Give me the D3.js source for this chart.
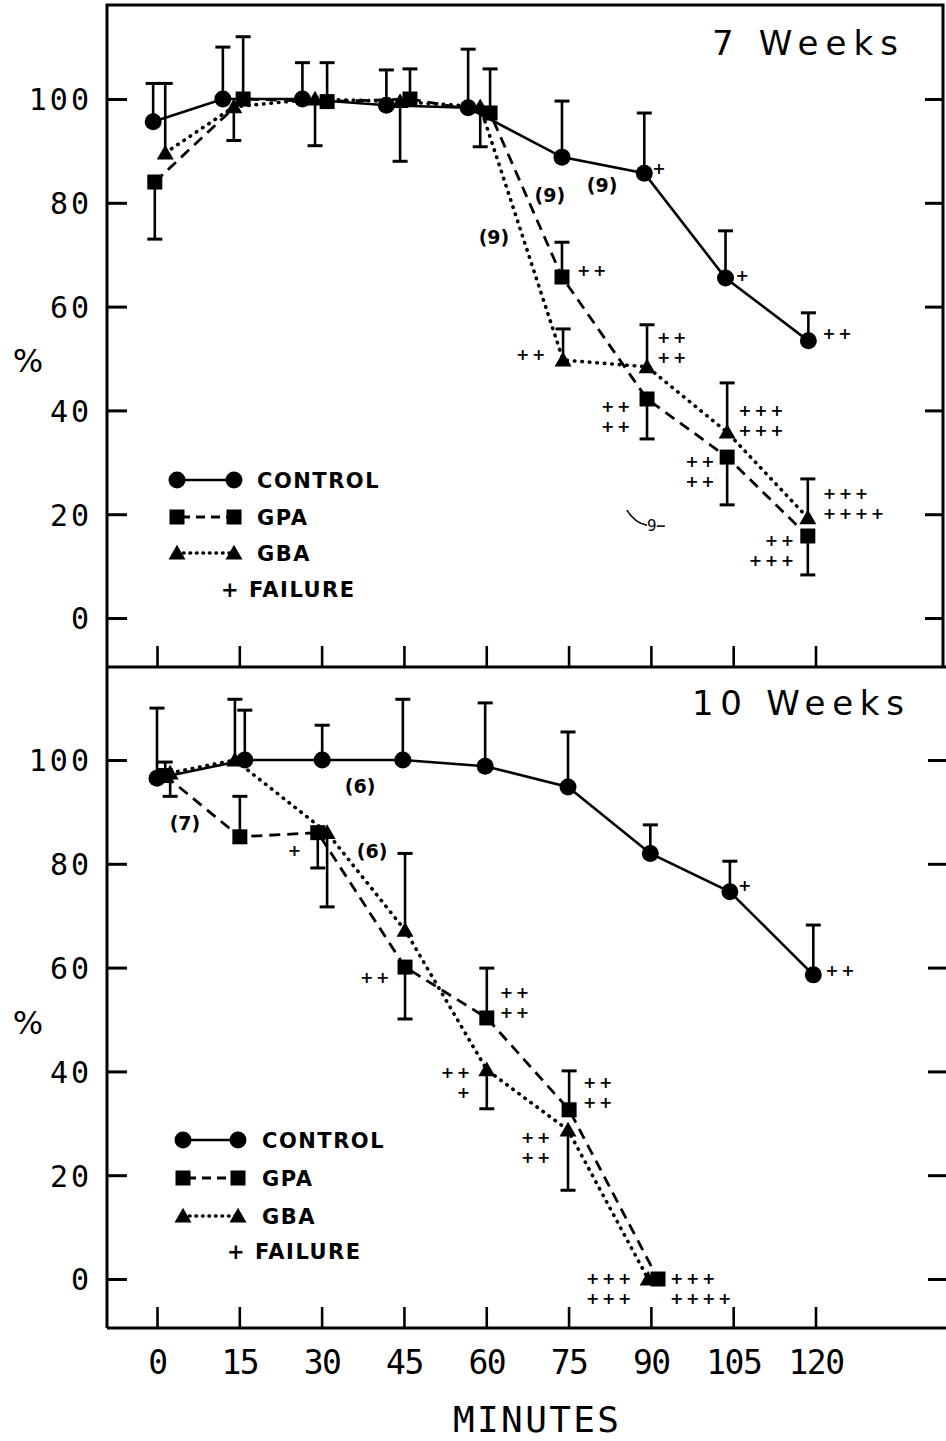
<!DOCTYPE html>
<html><head><meta charset="utf-8">
<script src="https://cdn.jsdelivr.net/npm/d3@7"></script>
<style>body{margin:0;background:#fff} svg{display:block;background:#fff}</style>
</head><body><svg id="c" width="946" height="1441"></svg>
<script>
// ---------- DATA ----------
const minuteTicks = [0, 15, 30, 45, 60, 75, 90, 105, 120];
const percentTicks = [0, 20, 40, 60, 80, 100];
const panelTitles = ["7 Weeks", "10 Weeks"];
const seriesNames = ["CONTROL", "GPA", "GBA"];
const failureLabel = "+ FAILURE";

// 7 weeks: plotted time (min), mean %, error-bar end %
const control7T = [-0.7, 12, 26.5, 41.8, 56.7, 73.8, 88.8, 103.6, 118.7];
const control7V = [95.6, 100, 100, 98.8, 98.3, 88.8, 85.7, 65.5, 53.4];
const control7E = [103, 110, 107, 105.6, 109.6, 99.6, 97.3, 74.6, 58.8];
const gpa7T = [-0.4, 15.7, 31, 46.1, 60.7, 73.8, 89.3, 103.9, 118.6];
const gpa7V = [84, 100, 99.5, 100, 97.3, 65.7, 42.2, 31.0, 15.8];
const gpa7E = [73, 112, 107, 105.8, 105.8, 72.4, 34.5, 21.8, 8.3];
const gba7T = [1.5, 14, 28.8, 44.3, 58.9, 74, 89.3, 103.9, 118.6];
const gba7V = [89.6, 98.5, 100, 99.5, 98.5, 49.7, 48.4, 35.8, 19.3];
const gba7E = [103, 92, 91, 88, 90.8, 55.7, 56.5, 45.3, 26.8];

// 10 weeks
const control10T = [0, 16, 30.1, 44.8, 59.8, 74.9, 89.9, 104.4, 119.6];
const control10V = [96.5, 100, 100, 100, 98.8, 94.8, 82, 74.6, 58.6];
const control10E = [110, 109.6, 106.7, 111.7, 111, 105.4, 87.5, 80.5, 68.2];
const gpa10T = [1.5, 15.1, 29.3, 45.2, 60.1, 75.1, 91.3];
const gpa10V = [97, 85.2, 86, 60.1, 50.3, 32.6, 0];
const gpa10E = [99.6, 93, 79.2, 50.1, 59.9, 40.1, null];
const gba10T = [2.4, 14.2, 31, 45.2, 60.1, 74.9, 89.5];
const gba10V = [97.5, 100, 86, 67.2, 40.3, 28.7, 0];
const gba10E = [93, 111.7, 71.7, 82, 32.8, 17.1, null];

// group sizes "(n)": time, %, text
const countLabels7 = [[71.6, 81.5, "(9)"], [81.1, 83.4, "(9)"], [61.4, 73.4, "(9)"]];
const countLabels10 = [[5.1, 87.9, "(7)"], [37, 95, "(6)"], [39.2, 82.5, "(6)"]];

// failures: series, point index, lines of "+"
const failures7 = [
  ["c", 6, ["+"]], ["c", 7, ["+"]], ["c", 8, ["++"]],
  ["p", 5, ["++"]], ["b", 5, ["++"]], ["b", 6, ["++", "++"]], ["p", 6, ["++", "++"]],
  ["b", 7, ["+++", "+++"]], ["p", 7, ["++", "++"]], ["b", 8, ["+++", "++++"]], ["p", 8, ["++", "+++"]]
];
const failures10 = [
  ["p", 2, ["+"]], ["p", 3, ["++"]], ["p", 4, ["++", "++"]], ["b", 4, ["++", "+"]],
  ["p", 5, ["++", "++"]], ["b", 5, ["++", "++"]], ["b", 6, ["+++", "+++"]], ["p", 6, ["+++", "++++"]],
  ["c", 7, ["+"]], ["c", 8, ["++"]]
];

// ---------- LAYOUT / STYLE ----------
// placement of failure marks relative to their point: [dx, dy, anchor]
const failPlace7 = [[8,-5,"start"],[10,-3,"start"],[14,-8,"start"],[15,-7,"start"],[-15,-6,"end"],
  [10,-20,"start"],[-14,17,"end"],[11,-12,"start"],[-10,14,"end"],[15,-15,"start"],[-11,14,"end"]];
const failPlace10 = [[-14,17,"end"],[-13,10,"end"],[13,-16,"start"],[-14,12,"end"],[14,-18,"start"],
  [-15,17,"end"],[-14,9,"end"],[12,9,"start"],[8,-7,"start"],[12,-5,"start"]];

const svg = d3.select("#c");
const x = d3.scaleLinear().domain([0, 120]).range([157, 815.5]);
const LEFT = 107, RIGHT_TOP = 943, RIGHT_BOT = 946;
const MONO = "'DejaVu Sans Mono', monospace";
const SANS = "'DejaVu Sans', sans-serif";

const panels = [
  { title: panelTitles[0], y: d3.scaleLinear().domain([0, 100]).range([618, 99]),
    top: 5, bottom: 667, right: RIGHT_TOP, rightTickX: 943, titleX: 898, titleY: 55, titleLen: 186,
    c: [control7T, control7V, control7E], p: [gpa7T, gpa7V, gpa7E], b: [gba7T, gba7V, gba7E],
    counts: countLabels7, fails: failures7, place: failPlace7,
    legend: { y: [480, 517, 553, 589], m1: 177, m2: 234, tx: 257 }, pctY: 372, labels: false },
  { title: panelTitles[1], y: d3.scaleLinear().domain([0, 100]).range([1279, 760]),
    top: 667, bottom: 1328, right: RIGHT_BOT, rightTickX: 946, titleX: 904, titleY: 715, titleLen: 212,
    c: [control10T, control10V, control10E], p: [gpa10T, gpa10V, gpa10E], b: [gba10T, gba10V, gba10E],
    counts: countLabels10, fails: failures10, place: failPlace10,
    legend: { y: [1140, 1178, 1216, 1251], m1: 183, m2: 238, tx: 262 }, pctY: 1034, labels: true }
];

const styles = {
  c: { dash: null, width: 2.6, cap: "butt" },
  p: { dash: "11,7", width: 2.8, cap: "butt" },
  b: { dash: "0.5,7", width: 3.6, cap: "round" }
};

function marker(g, key, cx, cy) {
  if (key === "c") g.append("circle").attr("cx", cx).attr("cy", cy).attr("r", 8.5).attr("fill", "#000");
  else if (key === "p") g.append("rect").attr("x", cx - 7.5).attr("y", cy - 7.5).attr("width", 15).attr("height", 15).attr("fill", "#000");
  else g.append("path").attr("d", d3.symbol(d3.symbolTriangle).size(125)()).attr("transform", `translate(${cx},${cy + 1.5})`).attr("fill", "#000");
}

// frame
const frame = svg.append("g").attr("fill", "none").attr("stroke", "#000").attr("stroke-width", 3);
frame.append("path").attr("d", `M${LEFT},1328V5H${RIGHT_TOP}V667`);
frame.append("path").attr("d", `M${LEFT},667H${RIGHT_BOT}`);
frame.append("path").attr("d", `M${LEFT},1328H${RIGHT_BOT}`);

panels.forEach(P => {
  const y = P.y;
  const g = svg.append("g");

  // left axis
  const ya = g.append("g").attr("transform", `translate(${LEFT},0)`)
    .call(d3.axisLeft(y).tickValues(percentTicks).tickSizeInner(-20).tickSizeOuter(0).tickPadding(15));
  ya.select(".domain").remove();
  ya.selectAll("line").attr("stroke", "#000").attr("stroke-width", 3);
  ya.selectAll("text").attr("font-family", MONO).attr("font-size", 30).attr("letter-spacing", 3)
    .attr("fill", "#000").attr("dy", "0.36em");

  // right ticks
  const yr = g.append("g").attr("transform", `translate(${P.rightTickX},0)`)
    .call(d3.axisRight(y).tickValues(percentTicks).tickSizeInner(-18).tickSizeOuter(0).tickFormat(""));
  yr.select(".domain").remove();
  yr.selectAll("line").attr("stroke", "#000").attr("stroke-width", 3);

  // bottom ticks
  const xa = g.append("g").attr("transform", `translate(0,${P.bottom})`)
    .call(d3.axisBottom(x).tickValues(minuteTicks).tickSizeInner(-21).tickSizeOuter(0).tickPadding(23)
      .tickFormat(P.labels ? d => d : ""));
  xa.select(".domain").remove();
  xa.selectAll("line").attr("stroke", "#000").attr("stroke-width", 2.6);
  xa.selectAll("text").attr("font-family", MONO).attr("font-size", 33).attr("letter-spacing", -1.5).attr("fill", "#000");

  // % label
  g.append("text").attr("x", 28).attr("y", P.pctY).attr("text-anchor", "middle")
    .attr("font-family", SANS).attr("font-size", 32).text("%");

  // title
  g.append("text").attr("x", P.titleX).attr("y", P.titleY).attr("text-anchor", "end")
    .attr("font-family", SANS).attr("font-size", 34).attr("textLength", P.titleLen)
    .attr("lengthAdjust", "spacing").text(P.title);

  // series lines
  ["c", "p", "b"].forEach(k => {
    const [T, V] = P[k];
    const pts = T.map((t, i) => [t, V[i]]);
    const st = styles[k];
    g.append("path").datum(pts)
      .attr("d", d3.line().x(d => x(d[0])).y(d => y(d[1])))
      .attr("fill", "none").attr("stroke", "#000").attr("stroke-width", st.width)
      .attr("stroke-dasharray", st.dash).attr("stroke-linecap", st.cap);
  });

  // error bars
  ["c", "p", "b"].forEach(k => {
    const [T, V, E] = P[k];
    T.forEach((t, i) => {
      if (E[i] == null) return;
      const cx = x(t);
      g.append("line").attr("x1", cx).attr("x2", cx).attr("y1", y(V[i])).attr("y2", y(E[i]))
        .attr("stroke", "#000").attr("stroke-width", 2.6);
      g.append("line").attr("x1", cx - 7.5).attr("x2", cx + 7.5).attr("y1", y(E[i])).attr("y2", y(E[i]))
        .attr("stroke", "#000").attr("stroke-width", 3);
    });
  });

  // markers
  ["c", "p", "b"].forEach(k => {
    const [T, V] = P[k];
    T.forEach((t, i) => marker(g, k, x(t), y(V[i])));
  });

  // count labels
  P.counts.forEach(([t, v, s]) => {
    g.append("text").attr("x", x(t)).attr("y", y(v)).attr("dy", "0.36em").attr("text-anchor", "middle")
      .attr("font-family", SANS).attr("font-weight", "bold").attr("font-size", 19).text(s);
  });

  // failure marks
  P.fails.forEach(([k, i, lines], j) => {
    const [dx, dy, anchor] = P.place[j];
    const [T, V] = P[k];
    const px = x(T[i]) + dx, py = y(V[i]) + dy;
    const n = lines.length, lh = 19.5;
    lines.forEach((ln, li) => {
      g.append("text").attr("x", px).attr("y", py + (li - (n - 1) / 2) * lh + 6)
        .attr("text-anchor", anchor).attr("font-family", SANS).attr("font-weight", "bold")
        .attr("font-size", 16).attr("letter-spacing", 2.6).text(ln);
    });
  });

  // legend
  const L = P.legend;
  ["c", "p", "b"].forEach((k, r) => {
    const ly = L.y[r];
    const st = styles[k];
    g.append("line").attr("x1", L.m1).attr("x2", L.m2).attr("y1", ly).attr("y2", ly)
      .attr("stroke", "#000").attr("stroke-width", st.width)
      .attr("stroke-dasharray", k === "p" ? "9,6" : (k === "b" ? "0.5,6" : null))
      .attr("stroke-dashoffset", k === "p" ? -4 : 0)
      .attr("stroke-linecap", st.cap);
    marker(g, k, L.m1, ly);
    marker(g, k, L.m2, ly);
    g.append("text").attr("x", L.tx).attr("y", ly + 8).attr("font-family", SANS).attr("font-weight", "bold")
      .attr("font-size", 21).attr("letter-spacing", 1.5).text(seriesNames[r]);
  });
  g.append("text").attr("x", L.m1 + 44).attr("y", L.y[3] + 8).attr("font-family", SANS).attr("font-weight", "bold")
    .attr("font-size", 21).attr("letter-spacing", 1.5).attr("xml:space", "preserve").text(failureLabel);
});

// handwritten "9" scribble in the 7-week panel
{
  const y = panels[0].y;
  const hx = x(90), hy = y(17.9);
  svg.append("path").attr("d", `M${hx - 24},${hy - 15} Q${hx - 16},${hy - 2} ${hx - 4},${hy}`)
    .attr("fill", "none").attr("stroke", "#000").attr("stroke-width", 1.6);
  svg.append("text").attr("x", hx + 1).attr("y", hy + 6).attr("text-anchor", "middle")
    .attr("font-family", SANS).attr("font-size", 15).text("9");
  svg.append("line").attr("x1", hx + 6).attr("x2", hx + 14).attr("y1", hy + 1).attr("y2", hy + 1)
    .attr("stroke", "#000").attr("stroke-width", 1.6);
}

// x-axis title
svg.append("text").attr("x", 536).attr("y", 1432).attr("text-anchor", "middle")
  .attr("font-family", MONO).attr("font-size", 36).attr("textLength", 166).attr("lengthAdjust", "spacing")
  .text("MINUTES");
</script></body></html>
